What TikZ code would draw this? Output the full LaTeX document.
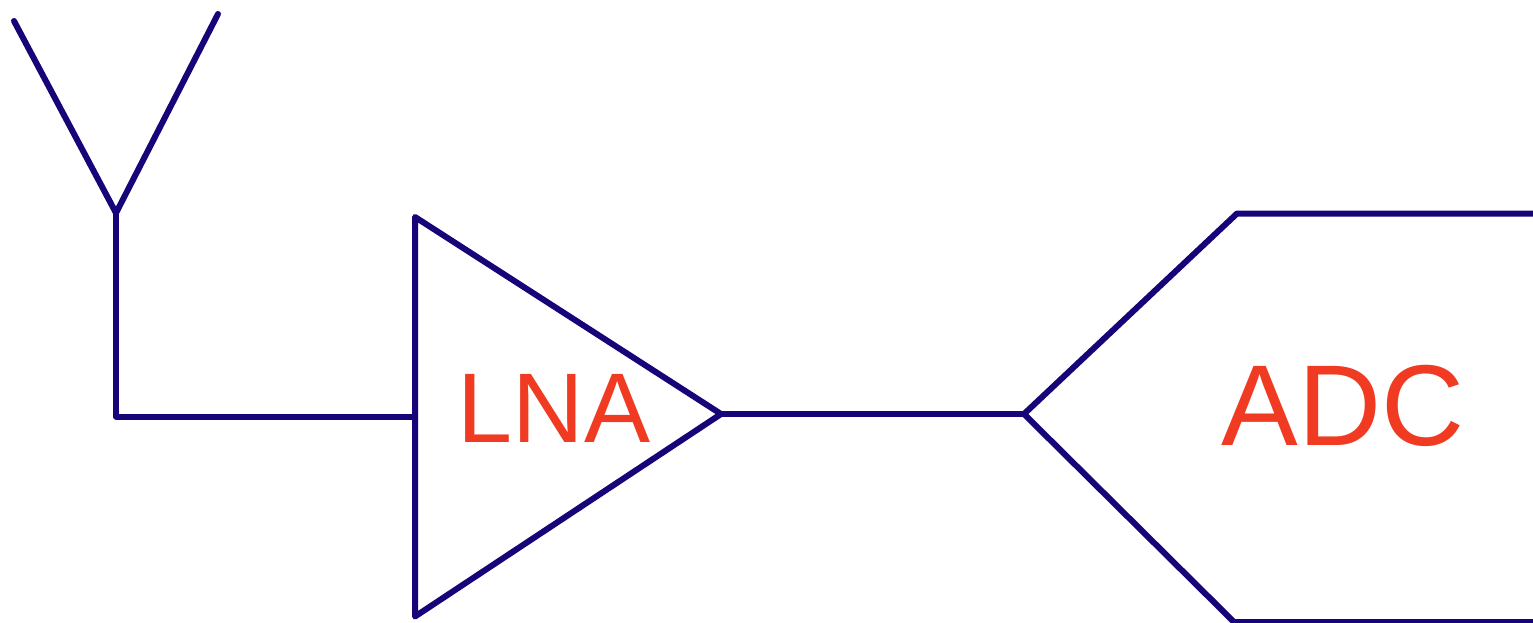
\documentclass[tikz,border=0pt]{standalone}
\usepackage{fontspec}
\setmainfont{Liberation Sans}
\definecolor{wire}{HTML}{150578}
\definecolor{hand}{HTML}{F03A22}
\tikzset{
  wireline/.style={draw=wire,line width=6pt,line cap=round,line join=round},
  handlabel/.style={text=hand,inner sep=0pt,anchor=center}
}
\begin{document}
\begin{tikzpicture}[x=1pt,y=-1pt]
\useasboundingbox (0,0) rectangle (1533,622);
\fill[white] (0,0) rectangle (1533,622);
% antenna
\coordinate (antL) at (14,21);
\coordinate (antR) at (218,14);
\coordinate (antB) at (116,213);
\coordinate (bend) at (116,416.5);
\coordinate (lnaIn) at (415,416.5);
% amplifier
\coordinate (lnaT) at (415,217);
\coordinate (lnaB) at (415,616.5);
\coordinate (lnaOut) at (721,414);
% ADC
\coordinate (adcTip) at (1024,414);
\coordinate (adcT) at (1237,213.5);
\coordinate (adcB) at (1234,622);
\coordinate (adcTR) at (1536,213.5);
\coordinate (adcBR) at (1536,622);
\draw[wireline] (antL) -- (antB) -- (antR);
\draw[wireline] (antB) -- (bend) -- (lnaIn);
\draw[wireline] (lnaT) -- (lnaOut) -- (lnaB) -- cycle;
\draw[wireline] (lnaOut) -- (adcTip);
\draw[wireline] (adcTR) -- (adcT) -- (adcTip) -- (adcB) -- (adcBR);
\node[handlabel] (lna) at (554,408) {\fontsize{99}{99}\selectfont LNA};
\node[handlabel] (adc) at (1343,406) {\fontsize{115}{115}\selectfont ADC};
\end{tikzpicture}
\end{document}
